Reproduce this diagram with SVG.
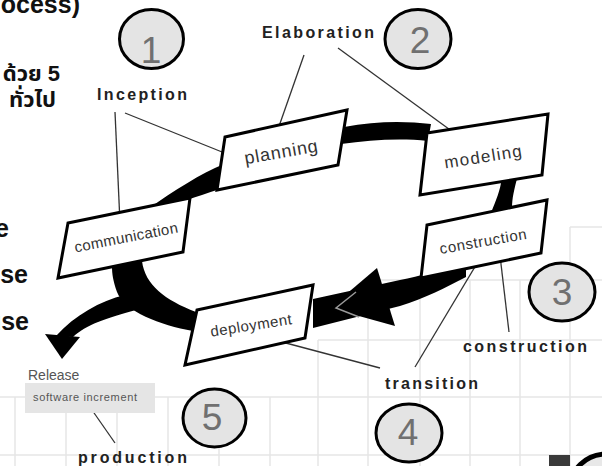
<svg xmlns="http://www.w3.org/2000/svg" width="602" height="466" viewBox="0 0 602 466">
  <style>
    .grid line { stroke: #e6e6e6; stroke-width: 1.5; }
    .band { fill: #000; }
    .box { fill: #fff; stroke: #000; stroke-width: 3; stroke-linejoin: miter; }
    .lbl { font-family: "Liberation Sans", Arial, sans-serif; font-size: 16px; fill: #333; text-anchor: middle; dominant-baseline: central; }
    .phase { font-family: "Liberation Sans", Arial, sans-serif; font-weight: bold; font-size: 16px; fill: #222; }
    .side { font-family: "Liberation Sans", "Noto Sans Thai", "Noto Sans", sans-serif; font-weight: bold; font-size: 25px; fill: #111; text-anchor: end; }
    .thai { font-size: 22px; }
    .ring { fill: #e4e4e4; stroke: #000; stroke-width: 3; }
    .num { font-family: "Liberation Sans", Arial, sans-serif; font-size: 37px; fill: #707070; text-anchor: middle; }
    .link { stroke: #333; stroke-width: 1.3; fill: none; }
  </style>

  <rect width="602" height="466" fill="#fff"/>

  <!-- faint background grid -->
  <g class="grid">
    <line x1="570" y1="227" x2="602" y2="227"/>
    <line x1="368" y1="280" x2="602" y2="280"/>
    <line x1="318" y1="340" x2="602" y2="340"/>
    <line x1="0" y1="397" x2="602" y2="397"/>
    <line x1="0" y1="455" x2="602" y2="455"/>
    <line x1="15" y1="397" x2="15" y2="466"/>
    <line x1="66" y1="397" x2="66" y2="466"/>
    <line x1="117" y1="397" x2="117" y2="466"/>
    <line x1="168" y1="397" x2="168" y2="466"/>
    <line x1="219" y1="397" x2="219" y2="466"/>
    <line x1="270" y1="397" x2="270" y2="466"/>
    <line x1="318" y1="340" x2="318" y2="466"/>
    <line x1="368" y1="280" x2="368" y2="466"/>
    <line x1="420" y1="280" x2="420" y2="466"/>
    <line x1="470" y1="280" x2="470" y2="466"/>
    <line x1="520" y1="280" x2="520" y2="466"/>
    <line x1="570" y1="227" x2="570" y2="466"/>
  </g>

  <!-- slide text running off the left edge -->
  <g id="side-text">
    <text class="side" x="80" y="13">ocess)</text>
    <text class="side thai" x="60" y="81">ด้วย 5</text>
    <text class="side thai" x="56" y="107">ทั่วไป</text>
    <text class="side" x="9" y="237">e</text>
    <text class="side" x="28" y="283">se</text>
    <text class="side" x="29" y="330">use</text>
  </g>

  <!-- thick process loop and leader lines -->
  <g id="connectors">
    <path class="band" d="M148,209 C175,190 200,174 224,164 L220,189 C207,193 196,197 187,200 Z"/>
    <path class="band" d="M344,127 C375,121 405,121 431,124 L428,141 C400,138 370,140 341,144 Z"/>
    <path class="band" d="M502,177 L518,175 C514,190 512,198 512,208 L491,213 C496,200 500,192 502,177 Z"/>
    <path class="band" d="M466,264 C440,270 420,276 400,280 L313,299 L313,328 L400,306 C425,298 445,288 466,277 Z"/>
    <path class="band" d="M377,268 L395,326 L330,308 Z"/>
    <polyline points="356,292 336,308 359,317" fill="none" stroke="#9a9a9a" stroke-width="1.5"/>
    <path class="band" d="M142,261 C145,285 165,300 196,312 L193,331 C160,325 125,312 117,292 C113,281 112,273 112,267 Z"/>
    <path class="band" d="M125,295 C100,301 75,315 56,336 L73,337 C86,325 106,318 136,310 Z"/>
    <path class="band" d="M45,334 L80,337 L62,359 Z"/>

    <line class="link" x1="115" y1="112" x2="120" y2="223"/>
    <line class="link" x1="125" y1="113" x2="237" y2="158"/>
    <line class="link" x1="304" y1="55" x2="277" y2="132"/>
    <line class="link" x1="338" y1="48" x2="468" y2="143"/>
    <line class="link" x1="509" y1="332" x2="499" y2="247"/>
    <line class="link" x1="415" y1="367" x2="485" y2="250"/>
    <line class="link" x1="267" y1="338" x2="380" y2="368"/>
    <line class="link" x1="92" y1="410" x2="115" y2="443"/>
  </g>

  <!-- activity boxes -->
  <g id="communication">
    <polygon class="box" points="68,223 190,198 183,252 58,278"/>
    <text class="lbl" x="126" y="237" textLength="105" style="font-size:15px" transform="rotate(-11 126 237)">communication</text>
  </g>
  <g id="planning">
    <polygon class="box" points="225,137 347,110 338,165 217,190"/>
    <text class="lbl" x="281" y="152" textLength="74" style="font-size:18px" transform="rotate(-10 281 152)">planning</text>
  </g>
  <g id="modeling">
    <polygon class="box" points="427,133 548,114 542,175 420,195"/>
    <text class="lbl" x="483" y="157" textLength="78" style="font-size:17px" transform="rotate(-9 483 157)">modeling</text>
  </g>
  <g id="construction">
    <polygon class="box" points="427,225 547,200 541,253 421,278"/>
    <text class="lbl" x="483" y="241" textLength="88" style="font-size:15px" transform="rotate(-10 483 241)">construction</text>
  </g>
  <g id="deployment">
    <polygon class="box" points="197,310 313,285 305,338 185,365"/>
    <text class="lbl" x="251" y="325" textLength="82" style="font-size:15px" transform="rotate(-9 251 325)">deployment</text>
  </g>

  <!-- phase names -->
  <g id="phase-inception"><text class="phase" x="97" y="100" textLength="90">Inception</text></g>
  <g id="phase-elaboration"><text class="phase" x="262" y="38" textLength="112">Elaboration</text></g>
  <g id="phase-construction"><text class="phase" x="463" y="352" textLength="124">construction</text></g>
  <g id="phase-transition"><text class="phase" x="385" y="389" textLength="93">transition</text></g>
  <g id="phase-production"><text class="phase" x="78" y="463" textLength="109">production</text></g>

  <!-- release output -->
  <g id="release">
    <text x="28" y="380" font-family="'Liberation Sans', Arial, sans-serif" font-size="14" fill="#555">Release</text>
    <rect x="25" y="383" width="130" height="30" fill="#e5e5e5"/>
    <text x="33" y="401" font-family="'Liberation Sans', Arial, sans-serif" font-size="11" fill="#555" textLength="104">software increment</text>
  </g>

  <!-- numbered phase markers -->
  <g id="marker-1"><ellipse class="ring" cx="151.5" cy="39" rx="32" ry="29.5"/><text class="num" x="151" y="63">1</text></g>
  <g id="marker-2"><ellipse class="ring" cx="418" cy="39" rx="33" ry="29.5"/><text class="num" x="420" y="53">2</text></g>
  <g id="marker-3"><ellipse class="ring" cx="562" cy="292" rx="33" ry="29"/><text class="num" x="562" y="305">3</text></g>
  <g id="marker-4"><ellipse class="ring" cx="409" cy="433" rx="33" ry="29"/><text class="num" x="408" y="445">4</text></g>
  <g id="marker-5"><ellipse class="ring" cx="214.5" cy="418" rx="31.5" ry="29"/><text class="num" x="212" y="430">5</text></g>

  <!-- corner fragment -->
  <g id="corner">
    <rect x="549" y="455" width="21" height="11" fill="#3a3a3a"/>
    <ellipse cx="606" cy="489" rx="36" ry="35" fill="#e8e8e8" stroke="#000" stroke-width="5"/>
  </g>
</svg>
